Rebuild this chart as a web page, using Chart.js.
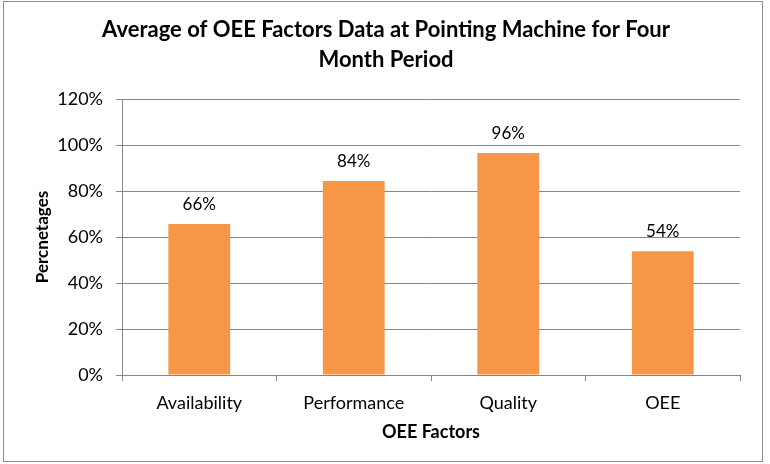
<!DOCTYPE html>
<html>
<head>
<meta charset="utf-8">
<script src="https://cdn.jsdelivr.net/npm/chart.js@4/dist/chart.umd.min.js"></script>
<style>
html,body{margin:0;padding:0;background:#fff;}
#wrap{position:absolute;left:0;top:0;width:770px;height:464px;}
#frame{position:absolute;left:3px;top:1px;width:760px;height:461px;border:1px solid #8c8c8c;box-sizing:border-box;pointer-events:none;}
</style>
</head>
<body>
<div id="wrap"><canvas id="c" width="770" height="464"></canvas><div id="frame"></div></div>
<script>
const categories = ["Availability", "Performance", "Quality", "OEE"];
const values = [0.656, 0.843, 0.965, 0.538];
const valueLabels = ["66%", "84%", "96%", "54%"];
const yTicks = [0, 0.2, 0.4, 0.6, 0.8, 1.0, 1.2];
const titleLines = ["Average of OEE Factors Data at Pointing Machine for Four", "Month Period"];

const FONT = "Lato, 'Open Sans', sans-serif";

const labelPlugin = {
  id: 'barLabels',
  afterDatasetsDraw(chart) {
    const ctx = chart.ctx;
    const meta = chart.getDatasetMeta(0);
    ctx.save();
    ctx.font = "17px " + FONT;
    ctx.fillStyle = "#000";
    ctx.textAlign = "center";
    ctx.textBaseline = "bottom";
    meta.data.forEach((bar, i) => {
      ctx.fillText(valueLabels[i], bar.x, bar.y - 11);
    });
    ctx.restore();
  }
};

new Chart(document.getElementById('c'), {
  type: 'bar',
  data: {
    labels: categories,
    datasets: [{
      data: values,
      backgroundColor: '#F79646',
      borderWidth: 0,
      barPercentage: 0.4,
      categoryPercentage: 1.0
    }]
  },
  options: {
    responsive: false,
    animation: false,
    devicePixelRatio: 1,
    layout: { padding: { left: 32, right: 30, top: 0, bottom: 21 } },
    plugins: {
      legend: { display: false },
      tooltip: { enabled: false },
      title: {
        display: true,
        text: titleLines,
        color: '#000',
        font: { family: FONT, size: 22, weight: 'bold', lineHeight: 30 / 22 },
        padding: { top: 15, bottom: 24 }
      }
    },
    scales: {
      x: {
        afterFit(scale) { scale.height = 68; },
        grid: { display: true, drawOnChartArea: false, offset: true, color: '#868686', tickLength: 6 },
        border: { display: true, color: '#868686', width: 1 },
        ticks: { color: '#000', font: { family: FONT, size: 18 }, padding: 11 },
        title: { display: true, text: 'OEE Factors', color: '#000', font: { family: FONT, size: 18, weight: 'bold' }, padding: { top: 8, bottom: 0 } }
      },
      y: {
        min: 0, max: 1.2,
        afterBuildTicks(scale) { scale.ticks = yTicks.map(v => ({ value: v })); },
        afterFit(scale) { scale.width = 90; },
        grid: { color: '#868686', tickLength: 6 },
        border: { display: true, color: '#868686', width: 1 },
        ticks: {
          color: '#000', font: { family: FONT, size: 18 }, padding: 13,
          callback: v => Math.round(v * 100) + '%'
        },
        title: { display: true, text: 'Percnetages', color: '#000', font: { family: FONT, size: 17, weight: 'bold' }, padding: { top: 0, bottom: 8 } }
      }
    }
  },
  plugins: [labelPlugin]
});
</script>
</body>
</html>
